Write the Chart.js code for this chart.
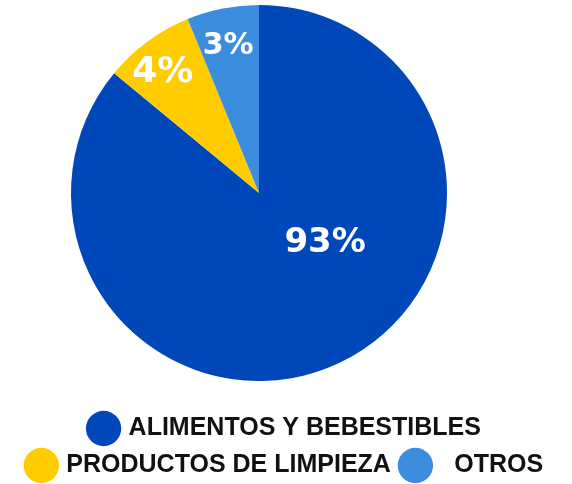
<!DOCTYPE html>
<html>
<head>
<meta charset="utf-8">
<script src="https://cdn.jsdelivr.net/npm/chart.js@4.4.1/dist/chart.umd.min.js"></script>
<style>
  html, body { margin: 0; padding: 0; background: #ffffff; }
  #wrap { width: 572px; height: 484px; position: relative; }
</style>
</head>
<body>
<div id="wrap"><canvas id="pie"></canvas></div>
<script>
// categories and slice sizes (slice sizes as drawn in the picture)
const categories = ["ALIMENTOS Y BEBESTIBLES", "PRODUCTOS DE LIMPIEZA", "  OTROS"];
const values = [86, 7.8, 6.2];
// printed percentages
const pctLabels = ["93%", "4%", "3%"];
const sliceColors = ["#0047BA", "#FFCC00", "#3C8DDD"];

// where each percentage sits inside its slice (fraction of arc, fraction of radius)
const labelPlace = [
  { t: 0.41, r: 0.44, size: 34 },
  { t: 0.42, r: 0.82, size: 36 },
  { t: 0.47, r: 0.80, size: 30 },
];

//put the pie a bit left of the legend, like the original
const pieArea = {
  id: "pieArea",
  afterLayout(chart) {
    const a = chart.chartArea;
    a.left = 71; a.right = 447; a.top = 5; a.bottom = 381;
    a.width = a.right - a.left;
    a.height = a.bottom - a.top;
  },
};

//white percentage text on the slices
const pctPlugin = {
  id: "pctLabels",
  afterDatasetsDraw(chart) {
    const ctx = chart.ctx;
    chart.getDatasetMeta(0).data.forEach((arc, i) => {
      const p = labelPlace[i];
      const a = arc.startAngle + (arc.endAngle - arc.startAngle) * p.t;
      const x = arc.x + Math.cos(a) * arc.outerRadius * p.r;
      const y = arc.y + Math.sin(a) * arc.outerRadius * p.r;
      ctx.save();
      ctx.fillStyle = "#ffffff";
      ctx.font = "bold " + p.size + "px 'DejaVu Sans', sans-serif";
      ctx.textAlign = "center";
      ctx.textBaseline = "middle";
      ctx.fillText(pctLabels[i], x, y);
      ctx.restore();
    });
  },
};

let myChart = new Chart(document.getElementById("pie"), {
  type: "pie",
  plugins: [pieArea, pctPlugin],
  data: {
    labels: categories,
    datasets: [
      {
        data: values,
        backgroundColor: sliceColors,
        borderWidth: 0,
      },
    ],
  },
  options: {
    responsive: true,
    maintainAspectRatio: false,
    animation: false,
    layout: { padding: { top: 0, bottom: -4, left: 0, right: 0 } },
    plugins: {
      tooltip: { enabled: false },
      legend: {
        position: "bottom",
        labels: {
          usePointStyle: true,
          pointStyle: "circle",
          color: "#111111",
          padding: 12,
          font: { family: "'Liberation Sans', Arial, sans-serif", size: 25, weight: "bold" },
        },
      },
    },
  },
});
</script>
</body>
</html>
